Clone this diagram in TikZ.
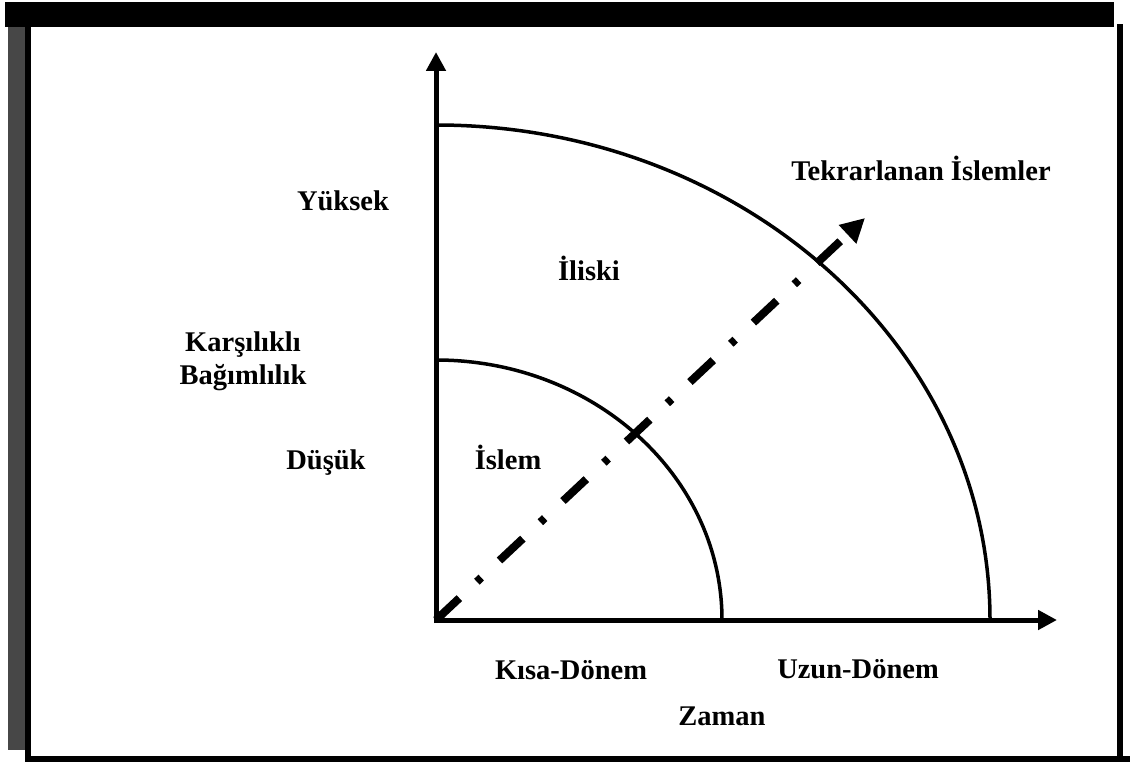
\documentclass[tikz,border=0pt]{standalone}
\usepackage{fontspec}
\setmainfont{Liberation Serif}
\usetikzlibrary{arrows.meta}
\begin{document}
\begin{tikzpicture}[x=1pt,y=-1pt,
  lbl/.style={font=\fontsize{28.5}{33}\selectfont\bfseries, inner sep=0pt, anchor=base},
  axisline/.style={line width=5pt, -{Triangle[length=19pt,width=19pt]}},
  arcline/.style={line width=3.5pt},
  dashdotline/.style={line width=8pt, dash pattern=on 32pt off 24pt on 6pt off 25pt, -{Triangle[length=24pt,width=24pt]}},
  band/.style={fill=black, draw=none},
  grayband/.style={fill=black!72, draw=none}]
\useasboundingbox (0,0) rectangle (1130,762);
% frame
\fill[band] (5,2) rectangle (1114,27);
\fill[grayband] (8,27) rectangle (25,750);
\fill[band] (25,27) rectangle (31,762);
\fill[band] (1117,24) rectangle (1123,759);
\fill[band] (25,756) rectangle (1130,762);
% coordinates
\coordinate (O) at (436,620);
\coordinate (Ob) at (436,623);
\coordinate (Ol) at (433.5,620);
\coordinate (Ytip) at (436,52);
\coordinate (Xtip) at (1057,620);
\coordinate (Dtip) at (865,218);
% axes
\draw[axisline] (Ob) -- (Ytip);
\draw[axisline] (Ol) -- (Xtip);
% quarter ellipses
\draw[arcline] (722,620) .. controls (722,476.4) and (594,360) .. (436,360);
\draw[arcline] (990,620) .. controls (990,346.6) and (742,125) .. (436,125);
% dash-dot arrow
\draw[dashdotline] (O) -- (Dtip);
% labels
\node[lbl] (yuksek) at (343,211) {Yüksek};
\node[lbl] (karsi) at (243,351) {Karşılıklı};
\node[lbl] (bagim) at (243,384) {Bağımlılık};
\node[lbl] (dusuk) at (326,469) {Düşük};
\node[lbl] (iliski) at (589,280) {İliski};
\node[lbl] (islem) at (508,469) {İslem};
\node[lbl] (tekrar) at (921,181) {Tekrarlanan İslemler};
\node[lbl] (kisa) at (571,679) {Kısa-Dönem};
\node[lbl] (uzun) at (858,678) {Uzun-Dönem};
\node[lbl] (zaman) at (722,725) {Zaman};
\end{tikzpicture}
\end{document}
